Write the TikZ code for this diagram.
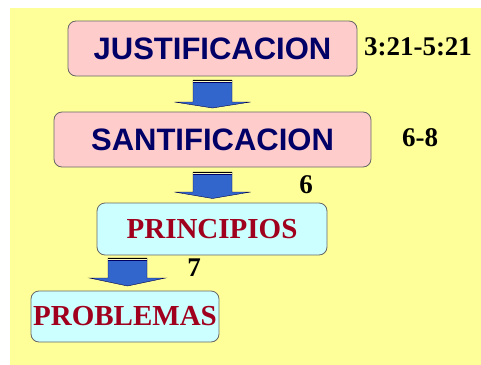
\documentclass[tikz,border=0pt]{standalone}
\usepackage{fontspec}
\setmainfont{Liberation Serif}
\newfontfamily\arialb{Liberation Sans}[BoldFont={* Bold}]
\definecolor{bgyellow}{HTML}{FFFF99}
\definecolor{boxpink}{HTML}{FFCCCC}
\definecolor{boxcyan}{HTML}{CCFFFF}
\definecolor{navytext}{HTML}{000066}
\definecolor{redtext}{HTML}{A0001E}
\definecolor{arrowblue}{HTML}{3366CC}
\definecolor{edgegrey}{HTML}{666666}
\tikzset{
  box/.style={draw=edgegrey, line width=0.8pt, rounded corners=8pt, inner sep=0pt},
  pinkbox/.style={box, fill=boxpink, text=navytext, font=\arialb\bfseries\fontsize{31}{31}\selectfont},
  cyanbox/.style={box, fill=boxcyan, text=redtext, font=\bfseries\fontsize{29}{29}\selectfont},
  reflabel/.style={inner sep=0pt, text=black, font=\bfseries\fontsize{27}{27}\selectfont},
}
\newcommand\myblockarrow[4]{%
  % #1 centre x, #2 top y, #3 head start y, #4 tip y
  \fill[arrowblue, draw=navytext!70!black, line width=0.4pt]
    ({#1-19.5},{#2}) -- ({#1+19.5},{#2}) -- ({#1+19.5},{#3}) -- ({#1+38},{#3})
    -- ({#1},{#4}) -- ({#1-38},{#3}) -- ({#1-19.5},{#3}) -- cycle;
  \fill[black] ({#1-19.5},{#2}) rectangle ({#1+19.5},{#2+1.2});
  \fill[bgyellow!60!white] ({#1-19.5},{#2+1.2}) rectangle ({#1+19.5},{#2+2});
  \fill[navytext] ({#1-19.5},{#2+2}) rectangle ({#1+19.5},{#2+3.4});
}
\begin{document}
\begin{tikzpicture}[x=1pt,y=-1pt]
\useasboundingbox (0,0) rectangle (481,364);
\fill[bgyellow] (10,8) rectangle (495,375);

\node[pinkbox, minimum width=289pt, minimum height=55pt] (just) at (212.5,48.5) {JUSTIFICACION};
\node[pinkbox, minimum width=317pt, minimum height=55pt] (sant) at (212.5,139.5) {SANTIFICACION};
\node[cyanbox, minimum width=230pt, minimum height=52pt] (prin) at (212,229) {PRINCIPIOS};
\node[cyanbox, minimum width=188pt, minimum height=51pt] (prob) at (125,316.5) {PROBLEMAS};

\node[reflabel] (r1) at (418,47) {3:21-5:21};
\node[reflabel] (r2) at (420,138) {6-8};
\node[reflabel] (r3) at (306,185) {6};
\node[reflabel] (r4) at (194,268) {7};

\myblockarrow{212.5}{80}{102}{108}
\myblockarrow{212.5}{172}{192}{198.5}
\myblockarrow{127.5}{258}{278}{286}
\end{tikzpicture}
\end{document}
